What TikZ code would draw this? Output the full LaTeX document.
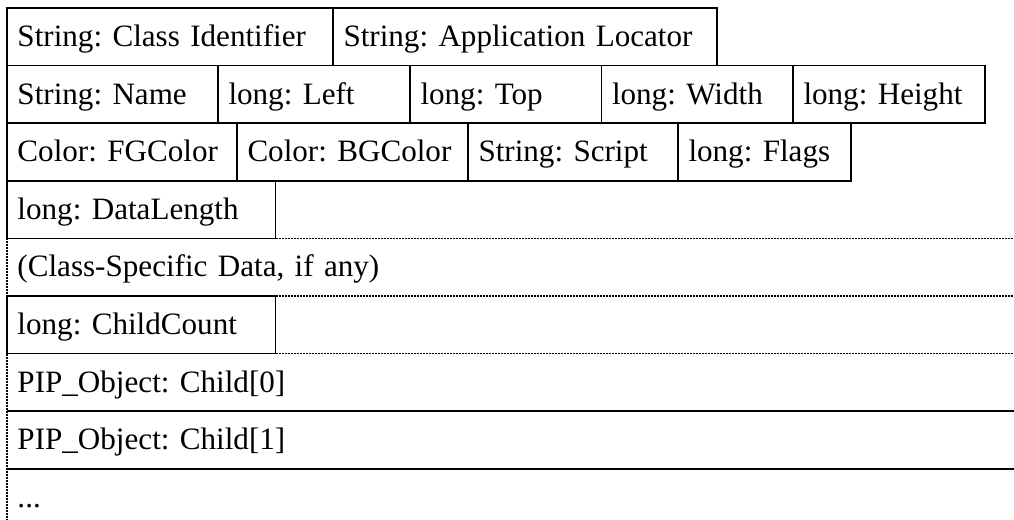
\documentclass[tikz,border=0pt]{standalone}
\usepackage{fontspec}
\setmainfont{Liberation Serif}
\frenchspacing
\hyphenpenalty=10000
\exhyphenpenalty=10000
\begin{document}
\begin{tikzpicture}[x=0.5pt,y=-0.5pt,
  cell/.style={anchor=north west, outer sep=0pt, inner xsep=5.25pt, inner ysep=0pt,
    text height=19.25pt, text depth=9.55pt, align=left,
    font=\fontsize{15.55pt}{19pt}\selectfont},
  field/.style={cell, draw, line width=0.8pt},
  rule/.style={line width=0.85pt},
  dotline/.style={line width=0.85pt, dash pattern=on 1pt off 0.5pt}]
\useasboundingbox (0,0) rectangle (1014,520);

% header: class and application
\node[field, text width=152.5pt] (cls) at (7,8) {String: Class Identifier};
\node[field, text width=181.5pt] (loc) at (cls.north east) {String: Application Locator};

% name and geometry
\node[field, text width=95pt]    (name)   at (cls.south west)  {String: Name};
\node[field, text width=85.5pt]  (left)   at (name.north east) {long: Left};
\node[field, text width=85.25pt] (top)    at (left.north east) {long: Top};
\node[field, text width=85.25pt] (width)  at (top.north east)  {long: Width};
\node[field, text width=85.5pt]  (height) at (width.north east) {long: Height};

% colours, script and flags
\node[field, text width=104.5pt] (fg)     at (name.south west)   {Color: FGColor};
\node[field, text width=105pt]   (bg)     at (fg.north east)     {Color: BGColor};
\node[field, text width=94.5pt]  (script) at (bg.north east)     {String: Script};
\node[field, text width=76pt]    (flags)  at (script.north east) {long: Flags};

% variable-length part
\node[field, text width=123.75pt] (dlen)  at (fg.south west)   {long: DataLength};
\node[cell,  text width=493pt]    (spec)  at (dlen.south west) {(Class-Specific Data, if any)};
\node[field, text width=123.75pt] (cc)    at (spec.south west) {long: ChildCount};
\node[cell,  text width=493pt]    (child0) at (cc.south west)     {PIP\_Object: Child[0]};
\node[cell,  text width=493pt]    (child1) at (child0.south west) {PIP\_Object: Child[1]};
\node[cell,  text width=493pt]    (more)   at (child1.south west) {...};
\coordinate (bottom) at (7,520);

% open borders of the variable-length part
\draw[dotline] (dlen.south east) -- (spec.north east);
\draw[dotline] (cc.north east) -- (spec.south east);
\draw[dotline] (cc.south east) -- (child0.north east);
\draw[dotline] (dlen.south west) -- (cc.north west);
\draw[dotline] (cc.south west) -- (bottom);
\draw[rule] (child0.south west) -- (child0.south east);
\draw[rule] (child1.south west) -- (child1.south east);
\end{tikzpicture}
\end{document}
